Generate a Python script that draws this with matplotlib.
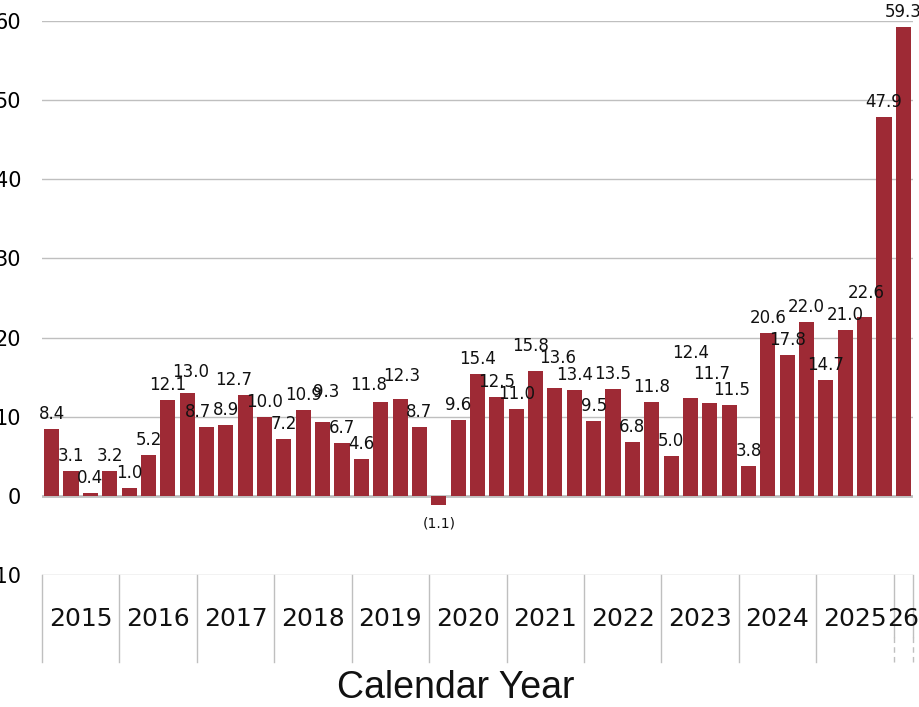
import numpy as np
import matplotlib
matplotlib.use('Agg')
import matplotlib.pyplot as plt

# quarterly values, 2015 Q1 .. 2026 Q1
values = [8.4, 3.1, 0.4, 3.2,
          1.0, 5.2, 12.1, 13.0,
          8.7, 8.9, 12.7, 10.0,
          7.2, 10.9, 9.3, 6.7,
          4.6, 11.8, 12.3, 8.7,
          -1.1, 9.6, 15.4, 12.5,
          11.0, 15.8, 13.6, 13.4,
          9.5, 13.5, 6.8, 11.8,
          5.0, 12.4, 11.7, 11.5,
          3.8, 20.6, 17.8, 22.0,
          14.7, 21.0, 22.6, 47.9,
          59.3]
years = ['2015', '2016', '2017', '2018', '2019', '2020',
         '2021', '2022', '2023', '2024', '2025', '26']
quarters_per_year = [4, 4, 4, 4, 4, 4, 4, 4, 4, 4, 4, 1]

# label nudges (pixels) to mimic the original label placement
label_nudge = {7: (3, 6), 8: (-9, 0), 10: (-12, 0), 14: (4, 15), 17: (-12, 2),
               18: (2, 8), 25: (-5, 10), 26: (3, 15), 33: (0, 30), 34: (2, 14),
               35: (3, 0), 42: (2, 9)}

bar_color = '#9E2A35'
grid_color = '#BFBFBF'

fig = plt.figure(figsize=(9.19, 7.07), dpi=100)
ax = fig.add_axes([42/919, 1 - 575/707, (913 - 42)/919, (575 - 21)/707])

x = np.arange(len(values))
ax.bar(x, values, width=0.78, color=bar_color, zorder=3)

ax.set_xlim(-0.5, len(values) - 0.5)
ax.set_ylim(-10, 60)
ax.set_yticks(np.arange(-10, 61, 10))
ax.set_yticklabels([str(v) for v in range(-10, 61, 10)])
ax.tick_params(axis='y', length=0, pad=15, labelsize=15)
ax.set_xticks([])
for s in ['left', 'right', 'top', 'bottom']:
    ax.spines[s].set_visible(False)

# horizontal grid lines
for v in range(-10, 61, 10):
    ax.axhline(v, color=grid_color, lw=2.0 if v == 0 else 1.0, zorder=1)

# data labels
for xi, v in zip(x, values):
    dx, dy = label_nudge.get(xi, (0, 0))
    if v >= 0:
        ax.annotate(f'{v:.1f}', (xi, v), xytext=(dx, 6 + dy), textcoords='offset pixels',
                    ha='center', va='bottom', fontsize=12, family='DejaVu Sans',
                    color='#111111', annotation_clip=False)
    else:
        ax.annotate(f'({abs(v):.1f})', (xi, v), xytext=(dx, -12 + dy), textcoords='offset pixels',
                    ha='center', va='top', fontsize=10, family='DejaVu Sans',
                    color='#111111', annotation_clip=False)

# year category boxes below the axis
trans = ax.get_xaxis_transform()
bounds = np.concatenate([[0], np.cumsum(quarters_per_year)]) - 0.5
box_bottom = -87/554
for i, b in enumerate(bounds):
    if i >= len(bounds) - 2:
        ax.plot([b, b], [0, -62/554], color=grid_color, lw=1, transform=trans, clip_on=False)
        ax.plot([b, b], [-62/554, box_bottom], color=grid_color, lw=1, ls=(0, (4, 3)),
                transform=trans, clip_on=False)
    else:
        ax.plot([b, b], [0, box_bottom], color=grid_color, lw=1, transform=trans, clip_on=False)
for i, yr in enumerate(years):
    c = (bounds[i] + bounds[i + 1]) / 2
    ax.text(c, -44/554, yr, transform=trans, ha='center', va='center',
            fontsize=18, family='DejaVu Sans', color='#111111', clip_on=False)

fig.text(456/919, 1 - 688/707, 'Calendar Year', ha='center', va='center',
         fontsize=27, family='Liberation Sans', color='#111111')

fig.savefig('out.png', dpi=100)
